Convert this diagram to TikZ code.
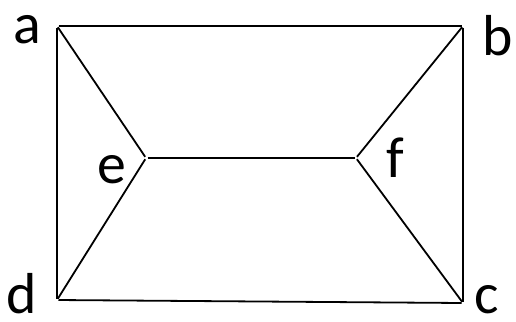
\documentclass[tikz,border=0pt]{standalone}
\usepackage{fontspec}
\setmainfont{Carlito}
\begin{document}
\begin{tikzpicture}[x=1bp,y=-1bp,
  edge/.style={line width=1.8bp,black,shorten <=1.5bp,shorten >=1.5bp},
  lbl/.style={anchor=base,inner sep=0pt,font=\fontsize{58}{58}\selectfont}]
\useasboundingbox (0,0) rectangle (516,321);
% vertices
\coordinate (a) at (57,26);
\coordinate (b) at (463,26);
\coordinate (c) at (463,303);
\coordinate (d) at (57,300);
\coordinate (e) at (146,158);
\coordinate (f) at (356,158);
% outer frame
\draw[edge] (a) -- (b);
\draw[edge] (b) -- (c);
\draw[edge] (c) -- (d);
\draw[edge] (d) -- (a);
% inner spokes and middle bar
\draw[edge] (a) -- (e);
\draw[edge] (d) -- (e);
\draw[edge] (e) -- (f);
\draw[edge] (b) -- (f);
\draw[edge] (c) -- (f);
% vertex labels
\node[lbl] (la) at (27,43) {a};
\node[lbl] (lb) at (498,55) {b};
\node[lbl] (lc) at (487,313) {c};
\node[lbl] (ld) at (22,313) {d};
\node[lbl] (le) at (112,183) {e};
\node[lbl] (lf) at (395,177) {f};
\end{tikzpicture}
\end{document}
